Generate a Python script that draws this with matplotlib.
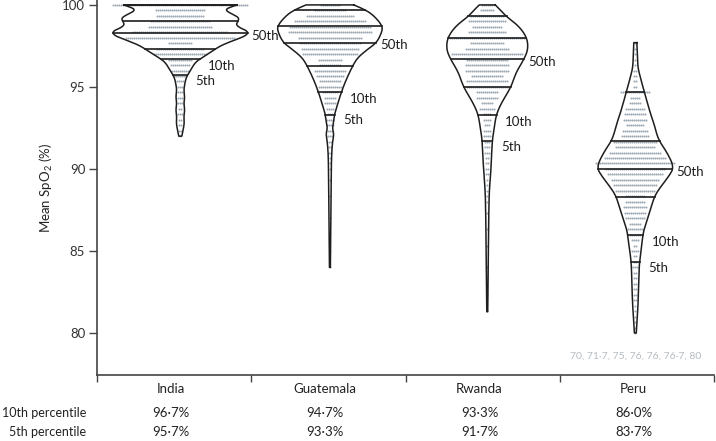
import numpy as np
import matplotlib
matplotlib.use('Agg')
import matplotlib.pyplot as plt

plt.rcParams['font.family'] = ['Lato', 'DejaVu Sans']

countries = ['India', 'Guatemala', 'Rwanda', 'Peru']

# violin outlines: SpO2 level and half width (category widths)
india_lev = [100.0, 99.9, 99.75, 99.6, 99.4, 99.2, 99.0, 98.8, 98.6, 98.45, 98.3,
             98.15, 98.0, 97.8, 97.5, 97.1, 96.8, 96.5, 96.0,
             95.6, 95.2, 94.8, 94.4, 94.0, 93.6, 93.2, 92.8, 92.4, 92.0]
india_hw = [0.368, 0.335, 0.297, 0.303, 0.348, 0.381, 0.374, 0.361, 0.387, 0.426, 0.439,
            0.426, 0.394, 0.335, 0.258, 0.194, 0.142, 0.097, 0.065,
            0.039, 0.029, 0.023, 0.029, 0.023, 0.029, 0.023, 0.026, 0.019, 0.010]

guat_lev = [100.0, 99.7, 99.3, 98.7, 98.3, 97.7, 97.3, 96.8, 96.3, 95.4, 94.6,
            93.8, 93.3, 92.8, 92.5, 92.1, 91.6, 90.7, 89.0, 86.5, 84.0]
guat_hw = [0.155, 0.232, 0.290, 0.342, 0.335, 0.303, 0.245, 0.181, 0.148, 0.103, 0.071,
           0.045, 0.029, 0.023, 0.016, 0.026, 0.016, 0.010, 0.008, 0.006, 0.003]

rwanda_lev = [100.0, 99.7, 99.3, 98.7, 98.0, 97.3, 96.7, 95.9, 95.0, 94.0, 93.3,
              92.5, 91.7, 90.3, 89.3, 88.5, 86.0, 83.5, 81.3]
rwanda_hw = [0.052, 0.084, 0.123, 0.206, 0.258, 0.265, 0.239, 0.187, 0.155, 0.090, 0.058,
             0.045, 0.032, 0.026, 0.019, 0.012, 0.008, 0.006, 0.003]

peru_lev = [97.7, 97.0, 96.2, 95.6, 94.7, 93.4, 92.7, 91.8, 91.0, 90.1, 89.5,
            88.8, 88.3, 87.5, 86.9, 86.2, 85.2, 84.3, 83.2, 82.0, 81.0, 80.0]
peru_hw = [0.010, 0.013, 0.016, 0.032, 0.058, 0.097, 0.123, 0.148, 0.206, 0.252, 0.213,
           0.155, 0.123, 0.097, 0.077, 0.052, 0.039, 0.026, 0.023, 0.019, 0.013, 0.006]

# dot rows: highest level and number of children per 1/3 % step going down
india_top = 100.0
india_dots = [68, 25, 24, 30, 32, 48, 55, 12, 24, 27, 12, 10, 9, 7, 4, 3, 3, 3, 3, 2,
              3, 2, 2, 2, 1]
guat_top = 100.0
guat_dots = [10, 16, 24, 36, 41, 42, 32, 31, 29, 28, 12, 11, 16, 14, 11, 12, 8, 6, 6, 4,
             3, 4, 4, 3, 3, 2, 2, 2, 1, 1, 1, 0, 1, 0, 0, 1, 0, 0, 0, 1,
             0, 0, 0, 0, 0, 1, 0, 0, 1]
rwanda_top = 100.0
rwanda_dots = [6, 7, 17, 19, 15, 19, 38, 17, 22, 36, 21, 22, 22, 16, 21, 21, 11, 11, 6, 8,
               4, 4, 3, 4, 4, 3, 3, 3, 2, 2, 2, 2, 1, 1, 1, 1, 1, 0, 1, 0,
               0, 1, 0, 0, 1, 0, 0, 0, 1, 0, 0, 0, 0, 1, 0, 0, 1]
peru_top = 97.0 + 2.0 / 3
peru_dots = [1, 1, 1, 1, 1, 2, 2, 2, 2, 15, 5, 6, 10, 11, 12, 9, 13, 14, 22, 20,
             26, 31, 40, 30, 28, 24, 22, 20, 10, 10, 12, 11, 10, 6, 8, 6, 4, 2, 4, 2,
             2, 3, 2, 2, 2, 2, 2, 2, 1, 1, 1, 1, 1, 1]

# percentile lines drawn in each violin (5th, 10th, 25th, 50th, 75th, 90th)
p5 = [95.7, 93.3, 91.7, 84.3]
p10 = [96.7, 94.7, 93.3, 86.0]
p25 = [97.3, 96.3, 95.0, 88.3]
p50 = [98.3, 97.7, 96.7, 90.0]
p75 = [99.0, 98.7, 98.0, 91.7]
p90 = [100.0, 99.7, 99.3, 94.7]

# table under the chart
tenth_pct = [96.7, 94.7, 93.3, 86.0]
fifth_pct = [95.7, 93.3, 91.7, 83.7]
peru_low = ['70', '71·7', '75', '76', '76', '76·7', '80']

outlines = [(india_lev, india_hw), (guat_lev, guat_hw),
            (rwanda_lev, rwanda_hw), (peru_lev, peru_hw)]
dot_rows = [(india_top, india_dots), (guat_top, guat_dots),
            (rwanda_top, rwanda_dots), (peru_top, peru_dots)]
centers = [0.54, 1.51, 2.53, 3.49]

ink = '#1e1e1e'
dotcol = '#9eabb4'
pitch = 0.013


def fmt(v):
    return ('%.1f' % v).replace('.', '·') + '%'


def smooth(lev, hw, n=10):
    '''
    Rounds the corners of the read outline (quadratic b-spline through midpoints)
    for drawing only, end points are kept
    '''
    pts = np.column_stack([lev, hw])
    out = [pts[0]]
    t = np.linspace(0, 1, n)[:, None]
    for i in range(1, len(pts) - 1):
        a = (pts[i - 1] + pts[i]) / 2.0 if i > 1 else pts[0]
        b = (pts[i] + pts[i + 1]) / 2.0 if i < len(pts) - 2 else pts[-1]
        seg = (1 - t) ** 2 * a + 2 * (1 - t) * t * pts[i] + t ** 2 * b
        out.extend(seg[1:])
    out = np.array(out)
    return out[:, 0], out[:, 1]


fig = plt.figure(figsize=(7.16, 4.41), dpi=100)
ax = fig.add_axes([97 / 716, 1 - 375 / 441, 617 / 716, 375 / 441])

for i, c in enumerate(centers):
    lev, hw = smooth(*outlines[i])
    #dot rows
    top, dots = dot_rows[i]
    for k, n in enumerate(dots):
        if n == 0:
            continue
        y = top - k / 3.0
        xs = c + (np.arange(n) - (n - 1) / 2.0) * pitch
        ax.scatter(xs, np.full(n, y), s=2.2, color=dotcol, linewidths=0, zorder=2)
    #outline
    xs = np.concatenate([c + hw, (c - hw)[::-1], [c + hw[0]]])
    ys = np.concatenate([lev, lev[::-1], [lev[0]]])
    ax.plot(xs, ys, color=ink, lw=1.1, zorder=3, solid_joinstyle='round')
    #percentile lines
    for p in [p5[i], p10[i], p25[i], p50[i], p75[i], p90[i]]:
        w = np.interp(p, lev[::-1], hw[::-1])
        ax.plot([c - w, c + w], [p, p], color=ink, lw=1.2, zorder=3)
    #labels
    for p, name, off in [(p50[i], '50th', (3, -2)), (p10[i], '10th', (6, -5)),
                         (p5[i], '5th', (6, -4))]:
        w = np.interp(p, lev[::-1], hw[::-1])
        ax.annotate(name, (c + w, p), xytext=off, textcoords='offset points',
                    ha='left', va='center', fontsize=9.5, color=ink)

ax.text(centers[3], 78.6, ', '.join(peru_low), ha='center', va='center',
        fontsize=7.5, color='#b4bcc1')

ax.set_xlim(0, 4)
ax.set_ylim(77.44, 100.3)
ax.set_yticks([80, 85, 90, 95, 100])
ax.set_xticks([0, 1, 2, 3, 4])
ax.set_xticklabels([])
ax.tick_params(axis='y', length=6, width=1, color='#444444', labelsize=9.5,
               labelcolor='#333333', pad=2.5)
ax.tick_params(axis='x', length=5, width=1, color='#444444')
for s in ['top', 'right']:
    ax.spines[s].set_visible(False)
for s in ['left', 'bottom']:
    ax.spines[s].set_color('#444444')
    ax.spines[s].set_linewidth(1.2)

tr = ax.get_xaxis_transform()
for i, name in enumerate(countries):
    x = i + 0.48
    ax.text(x, -0.037, name, transform=tr, ha='center', va='center', fontsize=9.5,
            color='#222222')
    ax.text(x, -0.101, fmt(tenth_pct[i]), transform=tr, ha='center', va='center',
            fontsize=9.5, color='#222222')
    ax.text(x, -0.152, fmt(fifth_pct[i]), transform=tr, ha='center', va='center',
            fontsize=9.5, color='#222222')
ax.text(-0.018, -0.101, '10th percentile', transform=ax.transAxes, ha='right',
        va='center', fontsize=9, color='#222222')
ax.text(-0.018, -0.152, '5th percentile', transform=ax.transAxes, ha='right',
        va='center', fontsize=9, color='#222222')

fig.text(46 / 716, 1 - 188 / 441, r'Mean SpO$_\mathregular{2}$ (%)', rotation=90,
         ha='center', va='center', fontsize=9.5, color='#222222')

fig.savefig('out.png', dpi=100)
